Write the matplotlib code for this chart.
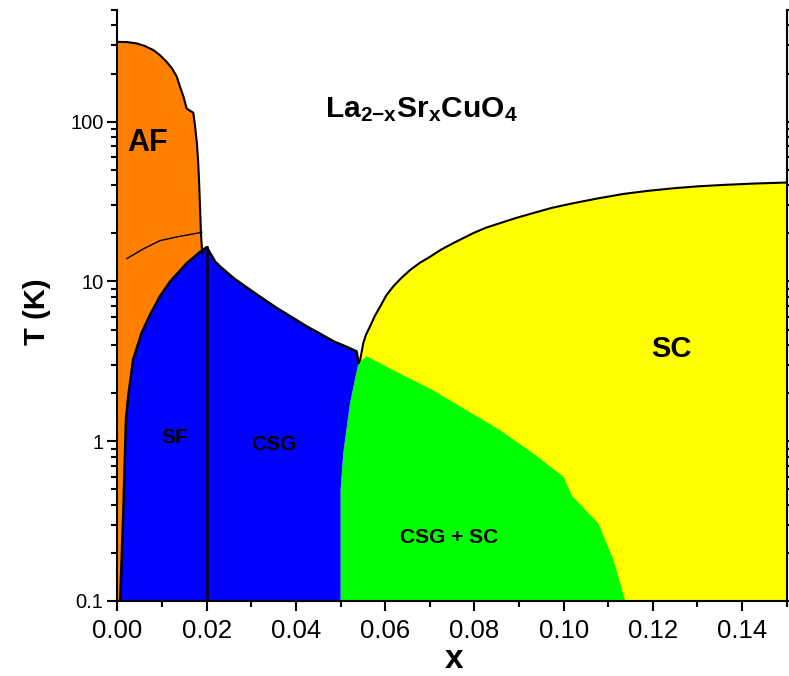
import numpy as np
import matplotlib
matplotlib.use('Agg')
import matplotlib.pyplot as plt

plt.rcParams['font.family'] = ['Liberation Sans', 'DejaVu Sans']
plt.rcParams['mathtext.fontset'] = 'custom'
plt.rcParams['mathtext.bf'] = 'Liberation Sans:bold'
plt.rcParams['mathtext.rm'] = 'Liberation Sans'

# Frontera AF (Neel)
af_x = [0.0, 0.0021, 0.0043, 0.0062, 0.0080, 0.0095, 0.0110, 0.0122, 0.0133, 0.0140, 0.0148,
        0.0155, 0.0166, 0.0170, 0.0174, 0.0178, 0.0181, 0.0183, 0.0185, 0.0187, 0.0189, 0.0190]
af_T = [316, 315, 309, 297, 281, 261, 237, 216, 191, 166, 143,
        121, 115.5, 113.8, 93.1, 73.3, 55.0, 41.2, 29.4, 20.1, 16.5, 15.0]

# Linea fina dentro de AF
fina_x = [0.0021, 0.0058, 0.0095, 0.0133, 0.0189]
fina_T = [13.9, 16.0, 18.0, 19.0, 20.3]

# Frontera superior SF / CSG
sg_x = [0.0006, 0.0013, 0.0019, 0.0024, 0.0035, 0.0054, 0.0073, 0.0095, 0.0118, 0.0155, 0.0185, 0.0200,
        0.0219, 0.0230, 0.0260, 0.0297, 0.0335, 0.0357, 0.0394, 0.0424, 0.0454, 0.0484, 0.0514, 0.0536, 0.0540]
sg_T = [0.1, 0.355, 1.37, 1.91, 3.24, 4.76, 6.19, 8.06, 10.0, 13.0, 15.3, 16.4,
        13.3, 12.4, 10.5, 8.87, 7.50, 6.82, 5.90, 5.23, 4.71, 4.22, 3.89, 3.65, 3.09]

# Frontera CSG / (CSG + SC)
csg_x = [0.0540, 0.0521, 0.0506, 0.0500, 0.0500]
csg_T = [3.09, 1.72, 0.838, 0.494, 0.1]

# Frontera superior de CSG + SC
mix_x = [0.0540, 0.0559, 0.0633, 0.0708, 0.0783, 0.0858, 0.0932, 0.1000, 0.1018, 0.1078, 0.1112, 0.1138]
mix_T = [3.09, 3.40, 2.65, 2.08, 1.56, 1.17, 0.838, 0.598, 0.458, 0.305, 0.180, 0.1]

# Domo superconductor
sc_x = [0.0540, 0.0544, 0.0551, 0.0557, 0.0566, 0.0577, 0.0589, 0.0602, 0.0618, 0.0636, 0.0656,
        0.0678, 0.0701, 0.0725, 0.0753, 0.0798, 0.0826, 0.0858, 0.0894, 0.0932, 0.0974, 0.1022,
        0.1077, 0.1134, 0.1189, 0.1246, 0.1302, 0.1358, 0.1427, 0.1500]
sc_T = [3.09, 3.24, 4.12, 4.64, 5.23, 6.10, 6.98, 8.14, 9.30, 10.5, 11.8,
        13.1, 14.3, 15.8, 17.4, 20.1, 21.7, 23.2, 25.0, 26.8, 28.9, 30.9,
        33.1, 35.3, 36.9, 38.3, 39.4, 40.2, 41.0, 41.6]

fig = plt.figure(figsize=(7.89, 6.76), dpi=100)
ax = fig.add_axes([117.5 / 789, 1 - 601 / 676, (786.7 - 117.5) / 789, (601 - 10) / 676])
ax.set_yscale('log')
ax.set_xlim(0, 0.15)
ax.set_ylim(0.1, 500)

# Regiones rellenas
ax.fill(sc_x + [0.15, 0.05], sc_T + [0.1, 0.1], color='#FFFF00', lw=0)
ax.fill(csg_x + mix_x[::-1], csg_T + mix_T[::-1], color='#00FF00', lw=0)
ax.fill([0.0] + af_x + [af_x[-1]], [0.1] + af_T + [0.1], color='#FF8000', lw=0)
ax.fill(sg_x + csg_x[1:], sg_T + csg_T[1:], color='#0000FF', lw=0)

# Lineas de frontera
ax.plot(af_x, af_T, color='black', lw=1.5)
ax.plot(sg_x, sg_T, color='black', lw=1.8)
ax.plot(sc_x, sc_T, color='black', lw=1.5)
ax.plot([0.02, 0.02], [0.1, 16.4], color='black', lw=1.8)
ax.plot(fina_x, fina_T, color='black', lw=1)

# Etiquetas de fases
ax.text(0.0067, 73.5, 'AF', fontsize=22, fontweight='bold', ha='center', va='center')
ax.text(0.0129, 1.05, 'SF', fontsize=15, fontweight='bold', ha='center', va='center')
ax.text(0.0351, 0.96, 'CSG', fontsize=15, fontweight='bold', ha='center', va='center')
ax.text(0.0743, 0.249, 'CSG + SC', fontsize=15, fontweight='bold', ha='center', va='center')
ax.text(0.1242, 3.76, 'SC', fontsize=21, fontweight='bold', ha='center', va='center')
ax.text(0.068, 106, r'$\mathbf{La_{2{-}x}Sr_xCuO_4}$', fontsize=21.5, ha='center', va='baseline')

# Ejes
ax.spines['top'].set_visible(False)
for s in ['left', 'right', 'bottom']:
    ax.spines[s].set_linewidth(1.5)
ax.set_xticks([0.00, 0.02, 0.04, 0.06, 0.08, 0.10, 0.12, 0.14])
ax.set_xticks(np.arange(0.01, 0.151, 0.02), minor=True)
ax.set_yticks([0.1, 1, 10, 100])
ax.set_yticklabels(['0.1', '1', '10', '100'])
ax.tick_params(which='both', direction='out', right=True, top=False, width=1.5)
ax.tick_params(which='major', length=7)
ax.tick_params(which='minor', length=4)
ax.tick_params(axis='y', labelsize=14.5, pad=3)
ax.tick_params(axis='x', labelsize=18.5, pad=6)

fig.text(37 / 789, 1 - 312 / 676, 'T (K)', fontsize=21, fontweight='bold', rotation=90,
         ha='center', va='center')
fig.text(454 / 789, 1 - 660 / 676, 'x', fontsize=24, fontweight='bold', ha='center', va='center')

plt.savefig('out.png', dpi=100)
